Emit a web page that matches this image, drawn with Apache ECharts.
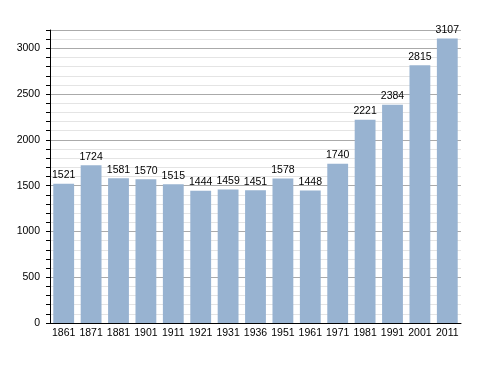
<!DOCTYPE html>
<html><head><meta charset="utf-8">
<script src="https://cdn.jsdelivr.net/npm/echarts@6/dist/echarts.min.js"></script>
<style>html,body{margin:0;padding:0;background:#fff}#c{width:488px;height:373px}</style>
</head><body><div id="c"></div>
<script>
const years = ['1861','1871','1881','1901','1911','1921','1931','1936','1951','1961','1971','1981','1991','2001','2011'];
const population = [1521,1724,1581,1570,1515,1444,1459,1451,1578,1448,1740,2221,2384,2815,3107];
const chart = echarts.init(document.getElementById('c'));
chart.setOption({
  animation: false,
  grid: {left: 50, right: 27, top: 30, bottom: 50},
  xAxis: {
    type: 'category', data: years,
    axisLine: {lineStyle: {color: '#000', width: 1}},
    axisTick: {show: false},
    axisLabel: {color: '#000', fontSize: 10.5, fontFamily: 'Liberation Sans, Arial', margin: 5, interval: 0}
  },
  yAxis: {
    type: 'value', min: 0, max: 3200, interval: 500,
    axisLine: {show: true, lineStyle: {color: '#000', width: 1}},
    axisTick: {show: true, length: 4, lineStyle: {color: '#000'}},
    minorTick: {show: true, splitNumber: 5, length: 4, lineStyle: {color: '#000'}},
    splitLine: {lineStyle: {color: '#aaaaaa', width: 1}},
    minorSplitLine: {show: true, lineStyle: {color: '#e4e4e4', width: 1}},
    axisLabel: {color: '#000', fontSize: 10.5, fontFamily: 'Liberation Sans, Arial', margin: 10,
      formatter: v => (v % 500 === 0 ? v : '')}
  },
  series: [{
    type: 'bar', data: population, barCategoryGap: '24%',
    itemStyle: {color: '#98b3d1'},
    label: {show: true, position: 'top', color: '#000', fontSize: 10.5, fontFamily: 'Liberation Sans, Arial', distance: 3}
  }]
});
</script></body></html>
